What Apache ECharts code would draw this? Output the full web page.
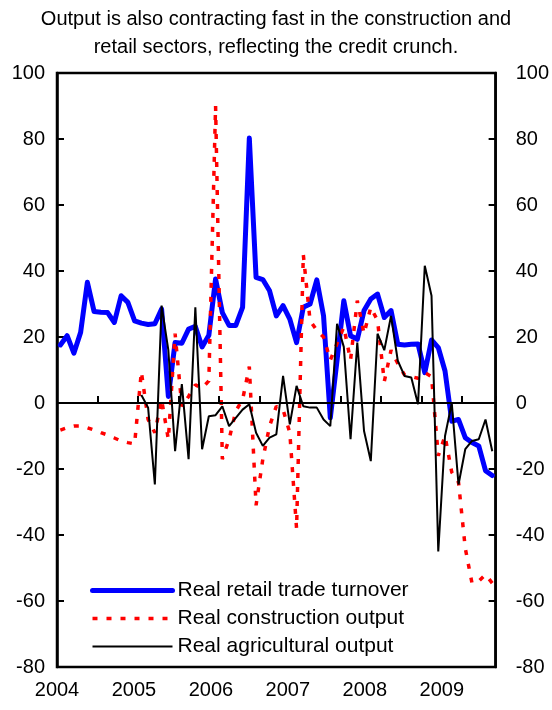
<!DOCTYPE html>
<html>
<head>
<meta charset="utf-8">
<script src="https://cdn.jsdelivr.net/npm/echarts@6/dist/echarts.min.js"></script>
<style>
  html, body { margin: 0; padding: 0; background: #fff; }
  #chart { width: 552px; height: 710px; }
</style>
</head>
<body>
<div id="chart"></div>
<script>
  // monthly, Jan 2004 - May 2009 (y/y % change)
  const months = [];
  for (let y = 2004; y <= 2009; y++) {
    for (let m = 1; m <= 12; m++) {
      if (months.length < 65) months.push(y + '-' + String(m).padStart(2, '0'));
    }
  }

  const yearLabels = ['2004', '2005', '2006', '2007', '2008', '2009'];

  const retail = [17.6, 20.4, 15.1, 21.4, 36.6, 27.7, 27.5, 27.4, 24.4, 32.5, 30.5, 24.9,
    24.2, 23.8, 24.0, 28.5, 2.0, 18.3, 18.1, 22.4, 23.2, 17.0, 20.5, 37.6,
    27.4, 23.5, 23.5, 29.0, 80.3, 38.1, 37.4, 34.0, 26.4, 29.5, 25.4, 18.3,
    29.0, 30.0, 37.3, 26.4, -4.5, 13.0, 31.0, 20.4, 19.3, 28.0, 31.5, 33.0,
    25.9, 28.0, 17.8, 17.6, 17.8, 17.9, 9.2, 19.1, 16.8, 9.7, -5.5, -5.0,
    -10.5, -12.0, -13.0, -20.5, -22.0];

  const construction = [-8.2, -7.5, -7.0, -7.0, -7.5, -8.2, -9.0, -9.7, -10.6, -11.5, -12.0, -12.4,
    9.5, -5.0, -9.0, 1.0, -11.0, 21.0, -1.0, 2.0, 5.5, 4.5, 6.7, 90.0,
    -17.0, -11.0, -2.4, 1.0, 11.0, -31.0, -17.0, -7.0, -1.0, -2.0, -9.0, -38.0,
    45.0, 25.0, 22.0, 20.0, 13.0, 18.0, 23.0, 13.0, 31.0, 21.0, 29.0, 25.0,
    6.5, 16.0, 12.0, 8.5, 8.0, 7.5, 9.2, 8.0, -16.0, -10.0, -21.0, -24.0,
    -44.0, -54.6, -54.0, -52.0, -54.6];

  const agricultural = [null, null, null, null, null, null, null, null, null, null, null, null,
    2.4, -1.4, -24.7, 29.5, 16.0, -14.6, 5.7, -17.0, 29.0, -14.0, -4.0, -3.7,
    -1.0, -7.0, -4.5, -2.0, -0.4, -9.0, -13.0, -10.5, -9.5, 8.2, -6.5, 5.2,
    -1.0, -1.4, -1.4, -5.0, -7.0, 24.0, 17.0, -11.0, 18.3, -8.5, -17.6, 21.0,
    16.0, 26.4, 12.8, 8.2, 7.7, -0.4, 41.6, 32.5, -45.0, -10.0, 0.0, -24.7,
    -14.0, -11.5, -11.0, -5.0, -14.6];

  const font = 'Liberation Sans, Arial, sans-serif';

  const chart = echarts.init(document.getElementById('chart'));

  function yAxis(pos, margin) {
    return {
      type: 'value',
      position: pos,
      min: -80,
      max: 100,
      interval: 20,
      axisLine: { show: true, lineStyle: { color: '#000', width: 2.5 } },
      axisTick: { show: true, inside: true, length: 7, lineStyle: { color: '#000', width: 2 } },
      axisLabel: { color: '#000', fontSize: 20, fontFamily: font, margin: margin },
      splitLine: { show: false },
    };
  }

  chart.setOption({
    animation: false,
    title: {
      text: 'Output is also contracting fast in the construction and\nretail sectors, reflecting the credit crunch.',
      left: 'center',
      top: 0,
      textStyle: { fontSize: 20, fontWeight: 'normal', color: '#000', fontFamily: font, lineHeight: 28 },
    },
    grid: {
      left: 57,
      right: 52,
      top: 73,
      bottom: 43,
      show: true,
      borderColor: '#000',
      borderWidth: 2.5,
    },
    legend: {
      orient: 'vertical',
      left: 90,
      top: 580,
      padding: 0,
      itemWidth: 80,
      itemHeight: 14,
      itemGap: 7,
      itemStyle: { opacity: 0 },
      textStyle: { fontSize: 21, color: '#000', fontFamily: font },
      data: [
        { name: 'Real retail trade turnover', lineStyle: { width: 5 } },
        { name: 'Real construction output', lineStyle: { width: 3.5 } },
        { name: 'Real agricultural output', lineStyle: { width: 2 } },
      ],
    },
    xAxis: [
      {
        type: 'category',
        data: months,
        boundaryGap: true,
        axisLine: { onZero: true, lineStyle: { color: '#000', width: 2 } },
        axisTick: { show: true, inside: true, length: 7, interval: 5, lineStyle: { color: '#000', width: 2 } },
        axisLabel: { show: false },
        splitLine: { show: false },
        z: 5,
      },
      {
        type: 'value',
        position: 'bottom',
        min: 0,
        max: 5.7,
        interval: 1,
        axisLine: { show: false, onZero: false },
        axisTick: { show: false },
        splitLine: { show: false },
        axisLabel: {
          color: '#000',
          fontSize: 20,
          fontFamily: font,
          margin: 13,
          formatter: v => (Number.isInteger(v) && yearLabels[v]) ? yearLabels[v] : '',
        },
      },
    ],
    yAxis: [yAxis('left', 12), yAxis('right', 20)],
    series: [
      {
        name: 'Real retail trade turnover',
        type: 'line',
        data: retail,
        symbol: 'none',
        lineStyle: { color: '#0000ff', width: 5, join: 'round', cap: 'round' },
        itemStyle: { color: '#0000ff' },
      },
      {
        name: 'Real construction output',
        type: 'line',
        data: construction,
        symbol: 'none',
        lineStyle: { color: '#ff0000', width: 3.5, type: [5, 9] },
        itemStyle: { color: '#ff0000' },
      },
      {
        name: 'Real agricultural output',
        type: 'line',
        data: agricultural,
        symbol: 'none',
        connectNulls: false,
        lineStyle: { color: '#000', width: 2 },
        itemStyle: { color: '#000' },
      },
    ],
  });
</script>
</body>
</html>
